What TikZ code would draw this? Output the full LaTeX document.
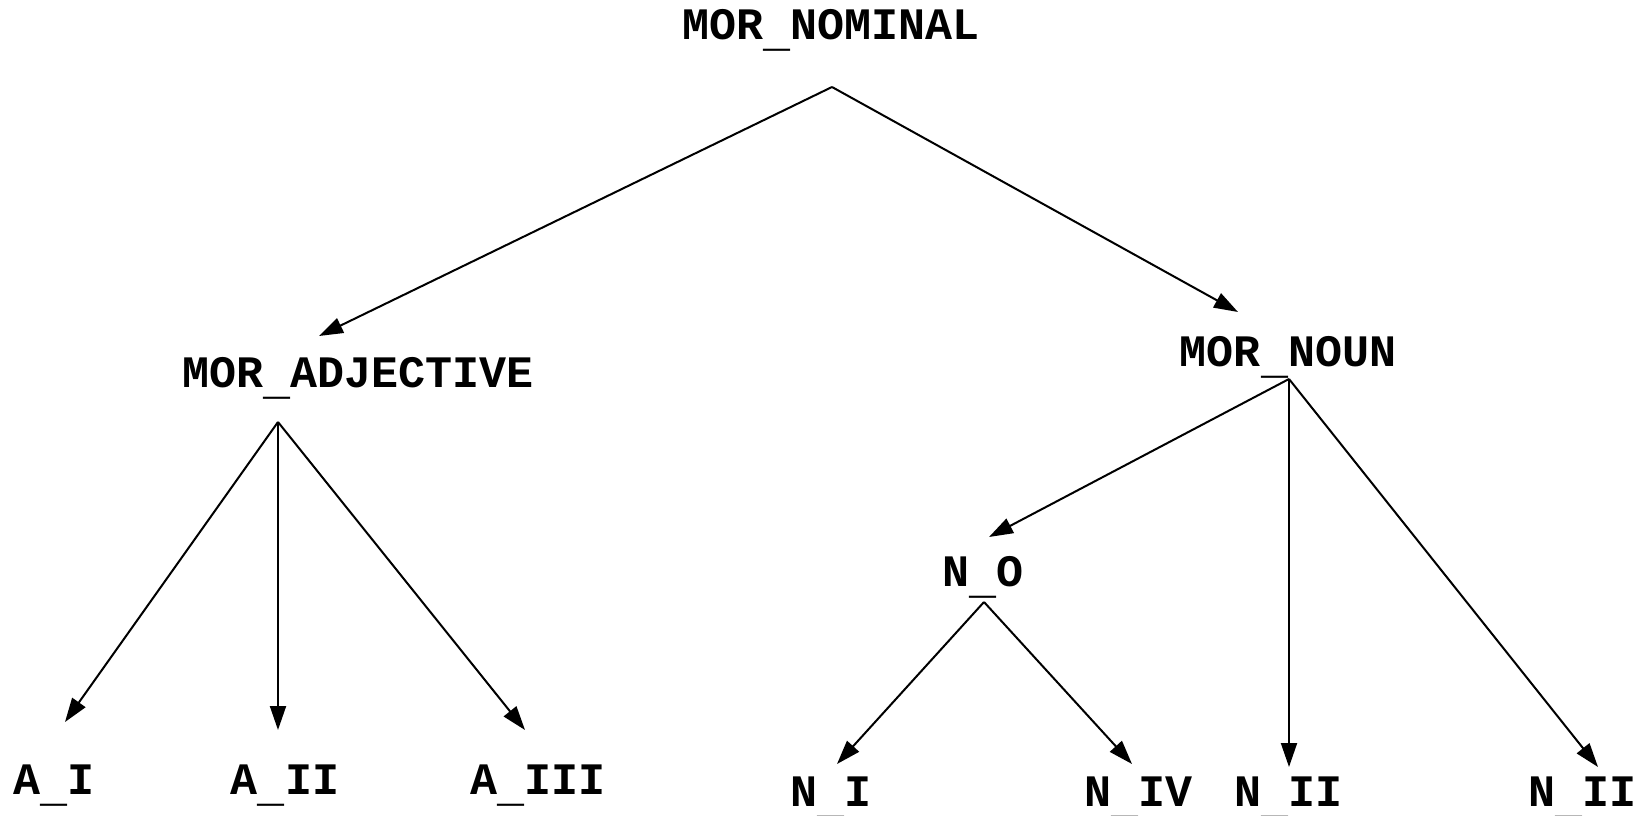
\documentclass[tikz,border=0pt]{standalone}
\usepackage{fontspec}
\setmonofont{Liberation Mono}
\usetikzlibrary{arrows.meta}
\newcommand\lowus{\raisebox{-7pt}{\_}}
\begin{document}
\begin{tikzpicture}[x=1pt,y=-1pt,
  lbl/.style={font=\fontsize{45}{50}\selectfont\ttfamily\bfseries, anchor=base, inner sep=0pt},
  edge/.style={line width=2pt, -{Triangle[length=24pt,width=16pt]}}]
\useasboundingbox (0,0) rectangle (1641,816);
% labels
\node[lbl] (nom)   at (831,40)  {MOR\lowus NOMINAL};
\node[lbl] (adj)   at (358,387) {MOR\lowus ADJECTIVE};
\node[lbl] (noun)  at (1288,366) {MOR\lowus NOUN};
\node[lbl] (ai)    at (54,794)  {A\lowus I};
\node[lbl] (aii)   at (285,794) {A\lowus II};
\node[lbl] (aiii)  at (538,794) {A\lowus III};
\node[lbl] (no)    at (983,586) {N\lowus O};
\node[lbl] (ni)    at (831,806) {N\lowus I};
\node[lbl] (niv)   at (1138,806) {N\lowus IV};
\node[lbl] (nii)   at (1288,806) {N\lowus II};
\node[lbl] (niib)  at (1582,806) {N\lowus II};
% connector ends
\coordinate (nomS)  at (832,87);
\coordinate (adjT)  at (319,336);
\coordinate (nounT) at (1238,312);
\coordinate (adjS)  at (278,422);
\coordinate (aiT)   at (65,722);
\coordinate (aiiT)  at (278,730);
\coordinate (aiiiT) at (525,730);
\coordinate (nounS) at (1289,379);
\coordinate (noT)   at (989,537);
\coordinate (niiT)  at (1289,767);
\coordinate (niibT) at (1598,767);
\coordinate (noS)   at (984,602);
\coordinate (niT)   at (837,764);
\coordinate (nivT)  at (1132,764);
% connectors
\draw[edge] (nomS) -- (adjT);
\draw[edge] (nomS) -- (nounT);
\draw[edge] (adjS) -- (aiT);
\draw[edge] (adjS) -- (aiiT);
\draw[edge] (adjS) -- (aiiiT);
\draw[edge] (nounS) -- (noT);
\draw[edge] (nounS) -- (niiT);
\draw[edge] (nounS) -- (niibT);
\draw[edge] (noS) -- (niT);
\draw[edge] (noS) -- (nivT);
\end{tikzpicture}
\end{document}
